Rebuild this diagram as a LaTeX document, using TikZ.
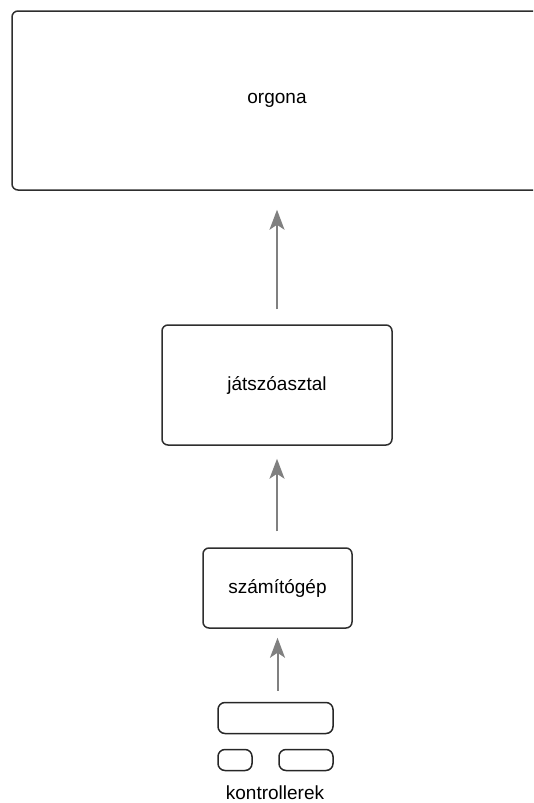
\documentclass[tikz,border=0pt]{standalone}
\usepackage{fontspec}
\setmainfont{Liberation Sans}
\usetikzlibrary{arrows.meta}
\begin{document}
\begin{tikzpicture}[x=1pt,y=-1pt,
  box/.style={draw=black!82, line width=1.5pt, rounded corners=6pt, inner sep=0pt, font=\fontsize{19}{22}\selectfont},
  ctrlbox/.style={draw=black!85, line width=1.5pt, rounded corners=7pt, inner sep=0pt},
  conn/.style={draw=black!50, line width=2pt, -{Stealth[length=20pt,width=15pt,inset=5pt]}},
  lbl/.style={font=\fontsize{19}{22}\selectfont, inner sep=0pt}]
\useasboundingbox (0,0) rectangle (533,803);
\begin{scope}
\clip (0,0) rectangle (533,803);
\node[box, minimum width=580pt, minimum height=179pt] (orgona) at (302,100.5) {};
\end{scope}
\node[lbl] (orgonaLbl) at (277,100) {orgona};
\node[box, minimum width=230pt, minimum height=120pt] (jatszo) at (277,385) {játszóasztal};
\node[box, minimum width=149pt, minimum height=80pt] (szamito) at (277.5,588) {számítógép};
\node[ctrlbox, minimum width=115pt, minimum height=31pt] (ctrl) at (275.5,718) {};
\node[ctrlbox, minimum width=34pt, minimum height=21pt] (ctrlA) at (235,760) {};
\node[ctrlbox, minimum width=54pt, minimum height=21pt] (ctrlB) at (306,760) {};
\node[lbl] (kontr) at (275,793) {kontrollerek};
\draw[conn, shorten <=15pt, shorten >=19pt] (jatszo.north) -- (jatszo.north |- orgona.south);
\draw[conn, shorten <=16pt, shorten >=13pt] (szamito.north -| jatszo.south) -- (jatszo.south);
\draw[conn, shorten <=11pt, shorten >=9pt] (szamito.south |- ctrl.north) -- (szamito.south);
\end{tikzpicture}
\end{document}
